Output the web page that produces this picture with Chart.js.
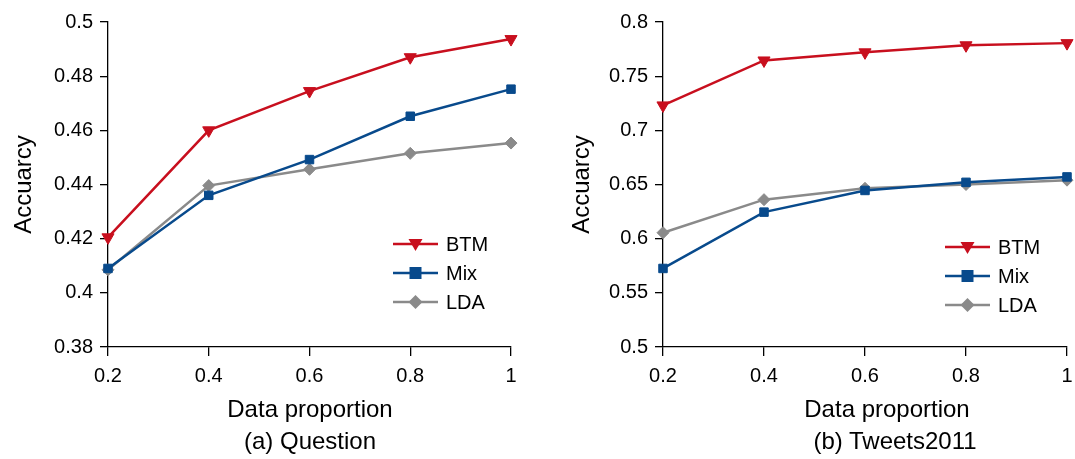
<!DOCTYPE html>
<html>
<head>
<meta charset="utf-8">
<script src="https://cdn.jsdelivr.net/npm/chart.js@4/dist/chart.umd.min.js"></script>
<style>
  html, body { margin: 0; padding: 0; background: #fff; }
  body { position: relative; width: 1075px; height: 459px; overflow: hidden;
         font-family: 'Liberation Sans', Arial, sans-serif; }
  .box { position: absolute; top: 0; height: 459px; }
  #boxA { left: 0; width: 537px; }
  #boxB { left: 537px; width: 538px; }
  .lbl { position: absolute; width: 300px; text-align: center; font-size: 24px;
         line-height: 28px; color: #000; white-space: nowrap; }
</style>
</head>
<body>
<div class="box" id="boxA"><canvas id="chartA"></canvas></div>
<div class="box" id="boxB"><canvas id="chartB"></canvas></div>
<div class="lbl" style="left:160px; top:395px;">Data proportion</div>
<div class="lbl" style="left:160px; top:427px;">(a) Question</div>
<div class="lbl" style="left:737px; top:395px;">Data proportion</div>
<div class="lbl" style="left:745px; top:427px;">(b) Tweets2011</div>
<script>
// x カテゴリ
const proportions = ['0.2', '0.4', '0.6', '0.8', '1'];
const seriesNames = ['BTM', 'Mix', 'LDA'];

// (a) Question
const questionBTM = [0.4205, 0.4600, 0.4745, 0.4870, 0.4937];
const questionMix = [0.4090, 0.4360, 0.4492, 0.4652, 0.4752];
const questionLDA = [0.4085, 0.4396, 0.4456, 0.4515, 0.4553];

// (b) Tweets2011
const tweetsBTM = [0.7230, 0.7645, 0.7720, 0.7785, 0.7805];
const tweetsMix = [0.5725, 0.6245, 0.6445, 0.6520, 0.6570];
const tweetsLDA = [0.6055, 0.6360, 0.6465, 0.6500, 0.6540];

const COLORS = { BTM: '#c80f1e', Mix: '#084a8c', LDA: '#8a8a8a' };
const FONT = 'Liberation Sans, Arial, sans-serif';

function makeDatasets(btm, mix, lda) {
  return [
    { label: seriesNames[0], data: btm, borderColor: COLORS.BTM, backgroundColor: COLORS.BTM,
      pointStyle: 'triangle', rotation: 180, pointRadius: 7 },
    { label: seriesNames[1], data: mix, borderColor: COLORS.Mix, backgroundColor: COLORS.Mix,
      pointStyle: 'rect', pointRadius: 6 },
    { label: seriesNames[2], data: lda, borderColor: COLORS.LDA, backgroundColor: COLORS.LDA,
      pointStyle: 'rectRot', pointRadius: 6 }
  ].map(d => Object.assign(d, { borderWidth: 2.5, tension: 0, fill: false, pointBorderWidth: 1 }));
}

// 凡例はプロット内の右下に線＋マーカーで描く
const innerLegend = {
  id: 'innerLegend',
  afterDraw(chart, args, opts) {
    const { ctx, chartArea } = chart;
    ctx.save();
    chart.data.datasets.forEach((ds, i) => {
      const y = chartArea.bottom - opts.fromBottom + i * 29;
      const x0 = chartArea.right - opts.fromRight;
      const x1 = x0 + 45;
      const xm = (x0 + x1) / 2;
      ctx.strokeStyle = ds.borderColor;
      ctx.fillStyle = ds.backgroundColor;
      ctx.lineWidth = 2.5;
      ctx.beginPath(); ctx.moveTo(x0, y); ctx.lineTo(x1, y); ctx.stroke();
      ctx.beginPath();
      if (ds.pointStyle === 'triangle') {
        ctx.moveTo(xm - 7, y - 5); ctx.lineTo(xm + 7, y - 5); ctx.lineTo(xm, y + 7);
      } else if (ds.pointStyle === 'rect') {
        ctx.rect(xm - 6, y - 6, 12, 12);
      } else {
        ctx.moveTo(xm, y - 7); ctx.lineTo(xm + 7, y); ctx.lineTo(xm, y + 7); ctx.lineTo(xm - 7, y);
      }
      ctx.closePath(); ctx.fill();
      ctx.fillStyle = '#000';
      ctx.font = '20px ' + FONT;
      ctx.textBaseline = 'middle';
      ctx.fillText(ds.label, x1 + 8, y + 1);
    });
    ctx.restore();
  }
};

function makeChart(id, datasets, yMin, yMax, yStep, yWidth, padLeft, padRight, legendOpts) {
  return new Chart(document.getElementById(id), {
    type: 'line',
    data: { labels: proportions, datasets: datasets },
    plugins: [innerLegend],
    options: {
      responsive: true,
      maintainAspectRatio: false,
      animation: false,
      layout: { padding: { top: 22, right: padRight, left: padLeft, bottom: 63 } },
      plugins: {
        legend: { display: false },
        tooltip: { enabled: false },
        innerLegend: legendOpts
      },
      scales: {
        x: {
          offset: false,
          border: { color: '#000', width: 1.3 },
          grid: { display: true, drawOnChartArea: false, color: '#000', tickLength: 9, lineWidth: 1.3 },
          ticks: { color: '#000', font: { family: FONT, size: 20 }, padding: 8, maxRotation: 0 },
          afterFit(scale) { scale.paddingLeft = 0; scale.paddingRight = 0; }
        },
        y: {
          min: yMin, max: yMax,
          border: { color: '#000', width: 1.3 },
          grid: { display: true, drawOnChartArea: false, color: '#000', tickLength: 8, lineWidth: 1.3 },
          ticks: { stepSize: yStep, color: '#000', font: { family: FONT, size: 20 }, padding: 7,
                   callback: v => String(parseFloat(v.toFixed(2))) },
          title: { display: true, text: 'Accuarcy', color: '#000',
                   font: { family: FONT, size: 24 }, padding: { top: 0, bottom: 6 } },
          afterFit(scale) { scale.width = yWidth; }
        }
      }
    }
  });
}

makeChart('chartA', makeDatasets(questionBTM, questionMix, questionLDA),
  0.38, 0.5, 0.02, 98, 10, 26, { fromRight: 118, fromBottom: 103 });
makeChart('chartB', makeDatasets(tweetsBTM, tweetsMix, tweetsLDA),
  0.5, 0.8, 0.05, 95, 31, 1, { fromRight: 122, fromBottom: 100 });
</script>
</body>
</html>
